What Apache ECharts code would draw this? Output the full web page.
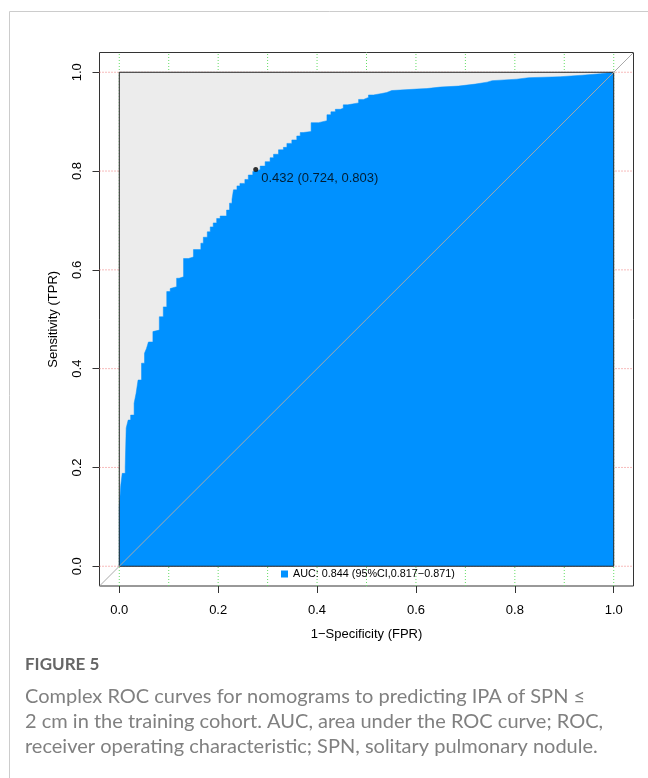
<!DOCTYPE html>
<html>
<head>
<meta charset="utf-8">
<script src="https://cdn.jsdelivr.net/npm/echarts@6/dist/echarts.min.js"></script>
<style>
  html, body { margin: 0; padding: 0; background: #fff; }
  #myChart { width: 648px; height: 778px; }
</style>
</head>
<body>
<div id="myChart"></div>
<script>
// ROC curve (step corners, FPR / TPR)
var fprValues = [0, 0, 0.003, 0.006, 0.012, 0.014, 0.018, 0.023, 0.030, 0.034, 0.038, 0.045,
    0.051, 0.055, 0.059, 0.068, 0.072, 0.081, 0.089, 0.096, 0.103, 0.106, 0.116, 0.121,
    0.130, 0.140, 0.150, 0.165, 0.170, 0.178, 0.184, 0.190, 0.197, 0.204, 0.217, 0.223,
    0.228, 0.231, 0.238, 0.244, 0.254, 0.261, 0.270, 0.276, 0.285, 0.295, 0.305, 0.312,
    0.322, 0.332, 0.339, 0.349, 0.359, 0.366, 0.372, 0.388, 0.403, 0.420, 0.428, 0.437,
    0.447, 0.453, 0.462, 0.484, 0.494, 0.504, 0.514, 0.531, 0.541, 0.551, 0.602, 0.622,
    0.649, 0.686, 0.720, 0.744, 0.754, 0.804, 0.828, 0.892, 0.936, 0.973, 1.0];
var tprValues = [0, 0.120, 0.164, 0.188, 0.201, 0.280, 0.296, 0.306, 0.330, 0.350, 0.377, 0.411,
    0.431, 0.441, 0.454, 0.475, 0.478, 0.505, 0.525, 0.556, 0.562, 0.566, 0.583, 0.586,
    0.623, 0.626, 0.641, 0.654, 0.666, 0.677, 0.687, 0.695, 0.704, 0.709, 0.721, 0.735,
    0.743, 0.762, 0.770, 0.775, 0.783, 0.792, 0.799, 0.803, 0.810, 0.819, 0.827, 0.834,
    0.843, 0.848, 0.856, 0.863, 0.871, 0.878, 0.880, 0.898, 0.902, 0.914, 0.920, 0.925,
    0.927, 0.934, 0.938, 0.945, 0.949, 0.954, 0.957, 0.959, 0.963, 0.966, 0.967, 0.970,
    0.972, 0.976, 0.980, 0.983, 0.986, 0.989, 0.991, 0.994, 0.997, 1.0, 1.0];

// best threshold
var bestThreshold = 0.432;
var bestSpecificity = 0.724;
var bestSensitivity = 0.803;

var aucLabel = 'AUC: 0.844 (95%CI,0.817\u22120.871)';
var tickValues = [0, 0.2, 0.4, 0.6, 0.8, 1.0];
var gridXValues = [0, 0.1, 0.2, 0.3, 0.4, 0.5, 0.6, 0.7, 0.8, 0.9, 1.0];
var gridYValues = [0, 0.2, 0.4, 0.6, 0.8, 1.0];

var axisMin = -0.04, axisMax = 1.04;
var rocColor = '#0091ff';

var myChart = echarts.init(document.getElementById('myChart'));

var series = [];
// dotted grid (sits under the grey box)
gridXValues.forEach(function (x) {
    series.push({
        type: 'line', silent: true, symbol: 'none', z: 1,
        data: [[x, axisMin], [x, axisMax]],
        lineStyle: { color: '#66dd66', width: 1, type: [1, 2] }
    });
});
gridYValues.forEach(function (y) {
    series.push({
        type: 'line', silent: true, symbol: 'none', z: 1,
        data: [[axisMin, y], [axisMax, y]],
        lineStyle: { color: '#ee7777', width: 1, type: [1, 2] }
    });
});
// max auc polygon
series.push({
    type: 'line', silent: true, symbol: 'none', z: 2,
    data: [[0, 1], [1, 1]],
    lineStyle: { width: 0 },
    areaStyle: { color: '#ececec', opacity: 1 }
});
// roc area
series.push({
    name: aucLabel,
    type: 'line', silent: true, symbol: 'none', z: 3,
    step: 'end',
    color: rocColor,
    data: fprValues.map(function (f, i) { return [f, tprValues[i]]; }),
    lineStyle: { width: 0.5, color: rocColor },
    areaStyle: { color: rocColor, opacity: 1 }
});
// box around [0,1]
series.push({
    type: 'line', silent: true, symbol: 'none', z: 4,
    data: [[0, 0], [0, 1], [1, 1], [1, 0], [0, 0]],
    lineStyle: { color: '#222', width: 1 }
});
// identity line
series.push({
    type: 'line', silent: true, symbol: 'none', z: 5,
    data: [[axisMin, axisMin], [axisMax, axisMax]],
    lineStyle: { color: '#a9a9a9', width: 1 }
});
// threshold point
series.push({
    type: 'scatter', silent: true, z: 6,
    symbolSize: 5,
    itemStyle: { color: '#000' },
    data: [[1 - bestSpecificity, bestSensitivity]],
    label: {
        show: true,
        position: 'right',
        distance: 3,
        offset: [0, 9],
        color: '#000',
        fontFamily: 'Liberation Sans',
        fontSize: 13,
        formatter: function () {
            return bestThreshold.toFixed(3) + ' (' + bestSpecificity.toFixed(3) + ', ' + bestSensitivity.toFixed(3) + ')';
        }
    }
});

var axisCommon = {
    type: 'value',
    min: axisMin,
    max: axisMax,
    nameLocation: 'middle',
    nameTextStyle: { color: '#000', fontFamily: 'Liberation Sans', fontSize: 13 },
    axisLine: { show: false, onZero: false },
    splitLine: { show: false },
    axisTick: {
        show: true, inside: false, length: 7, customValues: tickValues,
        lineStyle: { color: '#333', width: 1 }
    }
};

option = {
    animation: false,
    grid: {
        left: 99.5, top: 52.5, width: 534, height: 533.5,
        show: true, borderColor: '#333', borderWidth: 1, backgroundColor: 'transparent'
    },
    xAxis: Object.assign({}, axisCommon, {
        name: '1\u2212Specificity (FPR)',
        nameGap: 42,
        axisLabel: {
            customValues: tickValues, margin: 18, color: '#000',
            fontFamily: 'Liberation Sans', fontSize: 13,
            formatter: function (v) { return v.toFixed(1); }
        }
    }),
    yAxis: Object.assign({}, axisCommon, {
        name: 'Sensitivity (TPR)',
        nameGap: 40,
        axisLabel: {
            customValues: tickValues, margin: 16, rotate: 90, color: '#000',
            fontFamily: 'Liberation Sans', fontSize: 13,
            formatter: function (v) { return v.toFixed(1); }
        }
    }),
    legend: {
        left: 276, top: 563.5,
        itemWidth: 7, itemHeight: 7, itemGap: 5,
        textStyle: { color: '#000', fontFamily: 'Liberation Sans', fontSize: 10.8 },
        data: [{ name: aucLabel, icon: 'rect', itemStyle: { color: rocColor } }],
        selectedMode: false
    },
    graphic: [
        {
            type: 'rect', silent: true,
            shape: { x: 9.5, y: 11.5, width: 700, height: 800 },
            style: { fill: 'none', stroke: '#cccccc', lineWidth: 1 }
        },
        {
            type: 'text', left: 25, top: 656,
            style: { text: 'FIGURE 5', fill: '#666', font: 'bold 17px Lato' }
        },
        {
            type: 'text', left: 25, top: 684,
            style: {
                text: 'Complex ROC curves for nomograms to predicting IPA of SPN \u2264\n2 cm in the training cohort. AUC, area under the ROC curve; ROC,\nreceiver operating characteristic; SPN, solitary pulmonary nodule.',
                fill: '#808080', font: '20px Lato', lineHeight: 25
            }
        }
    ],
    series: series
};

myChart.setOption(option);
</script>
</body>
</html>
